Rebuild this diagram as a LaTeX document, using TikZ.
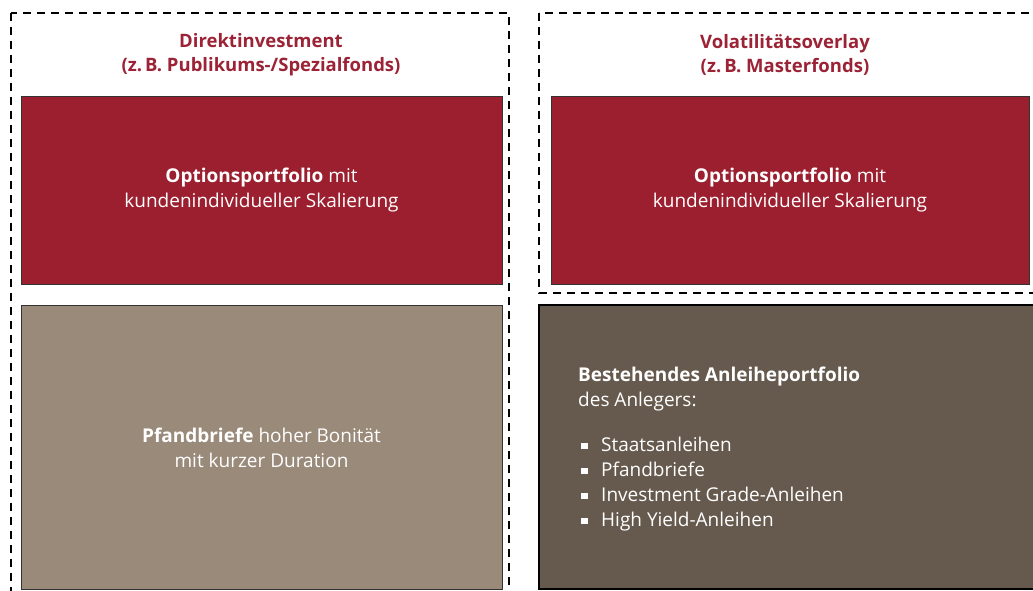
\documentclass[tikz,border=0pt]{standalone}
\usepackage{fontspec}
\setmainfont{Open Sans}
\usetikzlibrary{positioning}

\definecolor{DRed}{HTML}{9C1F2F}
\definecolor{DTan}{HTML}{9A8A7A}
\definecolor{DBrown}{HTML}{665A4E}
\definecolor{DHead}{HTML}{9B2335}

\newcommand{\sqbullet}{\makebox[23pt][l]{\hspace{3pt}\rule[2pt]{6.5pt}{6.5pt}}}

\begin{document}
\begin{tikzpicture}[x=1pt,y=-1pt,
  frame/.style={draw=black,line width=1.5pt,dash pattern=on 8pt off 6pt},
  headtext/.style={text=DHead,font=\fontsize{18.5}{24}\selectfont\bfseries,align=center},
  boxtext/.style={text=white,font=\fontsize{19}{25}\selectfont,align=center,
    inner sep=0pt},
  redbox/.style={boxtext,fill=DRed,draw=black!80,line width=0.8pt},
  tanbox/.style={boxtext,fill=DTan,draw=black!80,line width=0.8pt},
  brownbox/.style={boxtext,fill=DBrown,draw=black,line width=1.5pt}
]
\useasboundingbox (0,0) rectangle (1033,591);

% frames
\draw[frame] (11,13) rectangle (509,610);
\draw[frame] (539,13) rectangle (1050,293);

\node[headtext] (HL) at (261,55) {Direktinvestment\\(z.\,B. Publikums-/Spezialfonds)};
\node[headtext] (HR) at (785,55) {Volatilitätsoverlay\\(z.\,B. Masterfonds)};

\node[redbox,minimum width=481pt,minimum height=188pt] (OL) at (261.5,190)
  {\textbf{Optionsportfolio} mit\\kundenindividueller Skalierung};
\node[tanbox,minimum width=481pt,minimum height=284pt,below=21pt of OL] (PL)
  {\textbf{Pfandbriefe} hoher Bonität\\mit kurzer Duration};

\node[redbox,minimum width=478pt,minimum height=188pt] (OR) at (790,190)
  {\textbf{Optionsportfolio} mit\\kundenindividueller Skalierung};
\node[brownbox,minimum width=501pt,minimum height=284pt] (AR) at (789.5,447) {};
\node[boxtext,align=left,anchor=west] (AT) at (578,449)
  {\textbf{Bestehendes Anleiheportfolio}\\des Anlegers:\\[20pt]
   \sqbullet Staatsanleihen\\
   \sqbullet Pfandbriefe\\
   \sqbullet Investment Grade-Anleihen\\
   \sqbullet High Yield-Anleihen};

\end{tikzpicture}
\end{document}
